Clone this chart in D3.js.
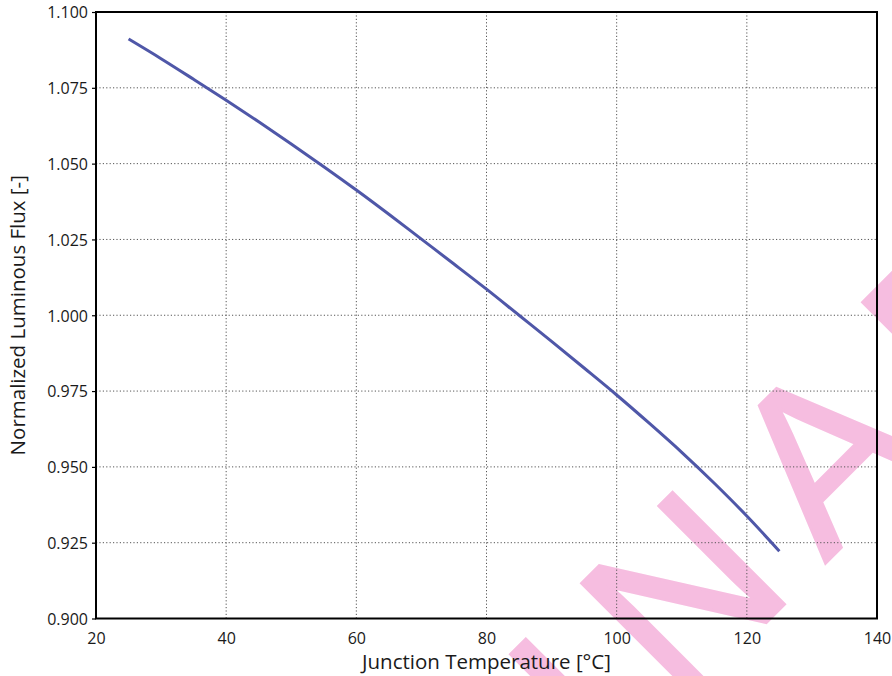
<!DOCTYPE html>
<html><head><meta charset="utf-8">
<script src="https://cdn.jsdelivr.net/npm/d3@7"></script>
<style>body{margin:0;background:#fff}svg{display:block}</style>
</head><body>
<svg id="c" width="892" height="676"></svg>
<script>
const temperature = [25,30,35,40,45,50,55,60,65,70,75,80,85,90,95,100,105,110,115,120,125];
const flux = [1.0911,1.0846,1.0778,1.0709,1.0638,1.0565,1.0490,1.0413,1.0333,1.0251,1.0169,1.0086,1.0000,0.9914,0.9826,0.9737,0.9644,0.9548,0.9446,0.9338,0.9222];
const xTicks = [20,40,60,80,100,120,140];
const yTicks = [0.900,0.925,0.950,0.975,1.000,1.025,1.050,1.075,1.100];
const xTitle = "Junction Temperature [°C]";
const yTitle = "Normalized Luminous Flux [-]";
const watermark = "PRELIMINARY";

const svg = d3.select("#c");
const L=96, R=877, T=12, B=618.5;
const x = d3.scaleLinear().domain([20,140]).range([L,R]);
const y = d3.scaleLinear().domain([0.9,1.1]).range([B,T]);
const font = "'Open Sans', 'Noto Sans', sans-serif";

// watermark
svg.append("text").text(watermark)
  .attr("transform","translate(-163.5,1552.3) rotate(-45)")
  .attr("font-family","'Liberation Sans', Arial, sans-serif")
  .attr("font-size",230)
  .style("letter-spacing","39px")
  .attr("fill","#f6bde0").attr("stroke","#f6bde0").attr("stroke-width",3);

// grid
const g = svg.append("g");
g.selectAll(".gx").data(xTicks.slice(1,-1)).join("line")
  .attr("x1",d=>x(d)).attr("x2",d=>x(d)).attr("y1",T).attr("y2",B)
  .attr("stroke","#555").attr("stroke-width",1).attr("stroke-dasharray","1.2,2.2");
g.selectAll(".gy").data(yTicks.slice(1,-1)).join("line")
  .attr("y1",d=>y(d)).attr("y2",d=>y(d)).attr("x1",L).attr("x2",R)
  .attr("stroke","#555").attr("stroke-width",1).attr("stroke-dasharray","1.2,2.2");

// axes
const xAxis = d3.axisBottom(x).tickValues(xTicks).tickSize(0).tickPadding(14).tickFormat(d3.format("d"));
const yAxis = d3.axisLeft(y).tickValues(yTicks).tickSize(4).tickPadding(4).tickFormat(d3.format(".3f"));
const gx = svg.append("g").attr("transform",`translate(0,${B})`).call(xAxis);
const gy = svg.append("g").attr("transform",`translate(${L},0)`).call(yAxis);
[gx,gy].forEach(a=>{
  a.select(".domain").remove();
  a.selectAll("text").attr("font-family",font).attr("font-size",16).attr("fill","#1a1a1a");
  a.selectAll("line").attr("stroke","#000").attr("stroke-width",1.2);
});
gy.selectAll("text").attr("dy","0.36em");

// curve
svg.append("path").datum(temperature.map((t,i)=>[t,flux[i]]))
  .attr("d",d3.line().x(d=>x(d[0])).y(d=>y(d[1])).curve(d3.curveMonotoneX))
  .attr("fill","none").attr("stroke","#4f57a8").attr("stroke-width",3);

// frame
svg.append("rect").attr("x",L).attr("y",T).attr("width",R-L).attr("height",B-T)
  .attr("fill","none").attr("stroke","#000").attr("stroke-width",2);

// titles
svg.append("text").text(xTitle).attr("x",(L+R)/2).attr("y",669)
  .attr("text-anchor","middle").attr("font-family",font).attr("font-size",20.5).attr("fill","#1a1a1a");
svg.append("text").text(yTitle).attr("transform",`translate(25,${(T+B)/2}) rotate(-90)`)
  .attr("text-anchor","middle").attr("font-family",font).attr("font-size",20.5).attr("fill","#1a1a1a");
</script>
</body></html>
